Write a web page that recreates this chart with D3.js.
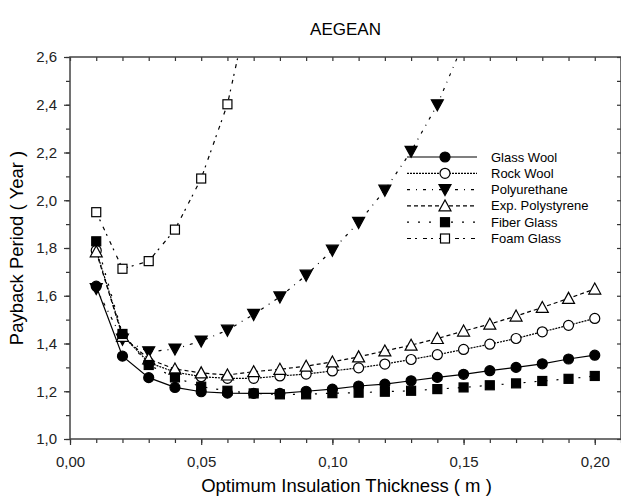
<!DOCTYPE html>
<html>
<head>
<meta charset="utf-8">
<script src="https://cdn.jsdelivr.net/npm/d3@7"></script>
<style>
  body { margin: 0; background: #fff; }
  svg { display: block; font-family: "Liberation Sans", Arial, sans-serif; }
</style>
</head>
<body>
<svg width="621" height="500"></svg>
<script>
// Chart data
var thickness = [0.01, 0.02, 0.03, 0.04, 0.05, 0.06, 0.07, 0.08, 0.09, 0.10,
                 0.11, 0.12, 0.13, 0.14, 0.15, 0.16, 0.17, 0.18, 0.19, 0.20];

var glassWool = [1.64, 1.347, 1.257, 1.216, 1.198, 1.192, 1.191, 1.191, 1.20, 1.209,
                 1.222, 1.230, 1.244, 1.258, 1.271, 1.286, 1.300, 1.315, 1.335, 1.351];
var rockWool = [1.79, 1.435, 1.32, 1.28, 1.261, 1.254, 1.254, 1.264, 1.272, 1.285,
                1.298, 1.314, 1.333, 1.353, 1.375, 1.397, 1.421, 1.449, 1.476, 1.505];
var polyurethane = [1.63, 1.418, 1.365, 1.377, 1.41, 1.456, 1.522, 1.595, 1.686, 1.791,
                    1.907, 2.042, 2.205, 2.40, 2.66];
var polystyrene = [1.784, 1.43, 1.335, 1.293, 1.277, 1.268, 1.282, 1.292, 1.305, 1.323,
                   1.344, 1.369, 1.393, 1.421, 1.452, 1.481, 1.515, 1.551, 1.589, 1.628];
var fiberGlass = [1.828, 1.44, 1.31, 1.258, 1.219, 1.202, 1.191, 1.187, 1.187, 1.192,
                  1.194, 1.198, 1.202, 1.209, 1.216, 1.225, 1.233, 1.243, 1.252, 1.264];
var foamGlass = [1.95, 1.713, 1.745, 1.877, 2.091, 2.402, 2.90];

var seriesNames = ["Glass Wool", "Rock Wool", "Polyurethane", "Exp. Polystyrene", "Fiber Glass", "Foam Glass"];
var xTicks = [0, 0.05, 0.10, 0.15, 0.20];
var yTicks = [1.0, 1.2, 1.4, 1.6, 1.8, 2.0, 2.2, 2.4, 2.6];

var svg = d3.select("svg"),
    plotLeft = 70, plotRight = 621, plotTop = 57, plotBottom = 439;

// comma as decimal mark
var locale = d3.formatLocale({ decimal: ",", thousands: ".", grouping: [3], currency: ["", ""] });

var x = d3.scaleLinear().domain([0, 0.21]).range([plotLeft, plotRight]);
var y = d3.scaleLinear().domain([1.0, 2.6]).range([plotBottom, plotTop]);

// one style entry per series
var series = [
  { name: seriesNames[0], values: glassWool, dash: null, shape: "circle", fill: "#000" },
  { name: seriesNames[1], values: rockWool, dash: "2,1", shape: "circle", fill: "#fff" },
  { name: seriesNames[2], values: polyurethane, dash: "3,6,1,6", shape: "down", fill: "#000" },
  { name: seriesNames[3], values: polystyrene, dash: "4,3", shape: "up", fill: "#fff" },
  { name: seriesNames[4], values: fiberGlass, dash: "2,9", shape: "square", fill: "#000" },
  { name: seriesNames[5], values: foamGlass, dash: "4,4,2,6", shape: "square", fill: "#fff" }
];

svg.append("defs").append("clipPath").attr("id", "plot")
  .append("rect")
    .attr("x", plotLeft).attr("y", plotTop)
    .attr("width", plotRight - plotLeft).attr("height", plotBottom - plotTop);

// Draws one marker shape centred on 0,0
function marker(sel, s) {
  if (s.shape == "circle") {
    sel.append("circle").attr("r", 5);
  } else if (s.shape == "square") {
    sel.append("rect").attr("x", -4.5).attr("y", -4.5).attr("width", 9).attr("height", 9);
  } else if (s.shape == "down") {
    sel.append("path").attr("d", "M-6,-5L6,-5L0,6Z");
  } else {
    sel.append("path").attr("d", "M-6,5L6,5L0,-6Z");
  }
  sel.selectAll("*")
    .attr("fill", s.fill)
    .attr("stroke", "#000")
    .attr("stroke-width", 1.2);
}

var line = d3.line()
    .x(function(d, i) { return x(thickness[i]); })
    .y(function(d) { return y(d); });

var plot = svg.append("g").attr("clip-path", "url(#plot)");

series.forEach(function(s) {
  plot.append("path")
      .attr("d", line(s.values))
      .attr("fill", "none")
      .attr("stroke", "#000")
      .attr("stroke-width", 1.2)
      .attr("stroke-dasharray", s.dash);
});

series.forEach(function(s) {
  plot.selectAll(null)
    .data(s.values)
    .enter().append("g")
      .attr("transform", function(d, i) { return "translate(" + x(thickness[i]) + "," + y(d) + ")"; })
      .each(function() { marker(d3.select(this), s); });
});

// Axes: bottom/left point out, top/right are mirrored inward
var minorX = d3.range(0, 0.2101, 0.01);
var minorY = d3.range(1.0, 2.601, 0.1);

svg.append("g")
    .attr("transform", "translate(0," + plotBottom + ")")
    .call(d3.axisBottom(x).tickValues(minorX).tickSize(4).tickFormat(""));
svg.append("g")
    .attr("transform", "translate(0," + plotBottom + ")")
    .call(d3.axisBottom(x).tickValues(xTicks).tickSize(6).tickPadding(11).tickFormat(locale.format(".2f")));
svg.append("g")
    .attr("transform", "translate(0," + plotTop + ")")
    .call(d3.axisBottom(x).tickValues(minorX).tickSize(4).tickFormat(""));

svg.append("g")
    .attr("transform", "translate(" + plotLeft + ",0)")
    .call(d3.axisLeft(y).tickValues(minorY).tickSize(4).tickFormat(""));
svg.append("g")
    .attr("transform", "translate(" + plotLeft + ",0)")
    .call(d3.axisLeft(y).tickValues(yTicks).tickSize(6).tickPadding(7).tickFormat(locale.format(".1f")));
svg.append("g")
    .attr("transform", "translate(" + plotRight + ",0)")
    .call(d3.axisLeft(y).tickValues(minorY).tickSize(4).tickFormat(""));

svg.selectAll(".domain").remove();
svg.selectAll(".tick line").attr("stroke", "#333").attr("stroke-width", 1.2);
svg.selectAll(".tick text")
    .attr("font-size", 15)
    .attr("font-family", "Liberation Sans, Arial, sans-serif")
    .attr("fill", "#222");

// Frame
svg.append("rect")
    .attr("x", plotLeft).attr("y", plotTop)
    .attr("width", plotRight - plotLeft).attr("height", plotBottom - plotTop)
    .attr("fill", "none")
    .attr("stroke", "#444")
    .attr("stroke-width", 1.5);

// Titles
svg.append("text")
    .attr("x", (plotLeft + plotRight) / 2).attr("y", 35)
    .attr("text-anchor", "middle")
    .attr("font-size", 17)
    .text("AEGEAN");

svg.append("text")
    .attr("x", (plotLeft + plotRight) / 2 + 1).attr("y", 492)
    .attr("text-anchor", "middle")
    .attr("font-size", 18.5)
    .text("Optimum Insulation Thickness ( m )");

svg.append("text")
    .attr("transform", "translate(23," + ((plotTop + plotBottom) / 2) + ") rotate(-90)")
    .attr("text-anchor", "middle")
    .attr("font-size", 18.5)
    .text("Payback Period ( Year )");

// Legend
var legend = svg.append("g").attr("transform", "translate(407,157)");
series.forEach(function(s, i) {
  var row = legend.append("g").attr("transform", "translate(0," + i * 16.3 + ")");
  row.append("line")
      .attr("x1", 0).attr("x2", 70)
      .attr("stroke", "#000")
      .attr("stroke-width", 1.2)
      .attr("stroke-dasharray", s.dash);
  row.append("g").attr("transform", "translate(38,0)")
      .call(function(g) { marker(g, s); });
  row.append("text")
      .attr("x", 84).attr("y", 4.5)
      .attr("font-size", 13)
      .text(s.name);
});
</script>
</body>
</html>
